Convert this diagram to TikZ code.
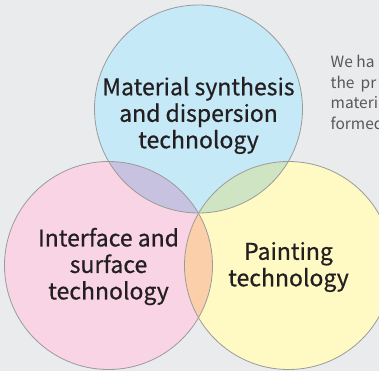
\documentclass[tikz,border=0pt]{standalone}
\usepackage{fontspec}
\setmainfont{Noto Sans CJK JP}
\newfontfamily\areafont[FakeBold=0.6]{Noto Sans CJK JP}
\usepackage{tikz}
\usetikzlibrary{positioning}
\usepackage{xcolor}
\definecolor{bgGray}{HTML}{EAEBEC}
\definecolor{edgeGray}{HTML}{9B9B9B}
\definecolor{inkBlack}{HTML}{231F20}
\definecolor{noteGray}{HTML}{595757}
\definecolor{skyBlue}{HTML}{C6E9F8}
\definecolor{rosePink}{HTML}{F9D4E4}
\definecolor{paleYellow}{HTML}{FFF9C4}
\definecolor{lilacMix}{HTML}{C7C2DF}
\definecolor{sageMix}{HTML}{CFE4C3}
\definecolor{peachMix}{HTML}{FCCFAB}

\begin{document}
\begin{tikzpicture}[
  x=1pt, y=-1pt,
  area/.style={circle, minimum size=208pt, inner sep=0pt},
  areatext/.style={inner sep=0pt, align=center, text=inkBlack, font=\areafont\fontsize{23}{26.5}\selectfont},
  ring/.style={draw=edgeGray, line width=0.8pt},
  note/.style={anchor=north west, inner sep=0pt, align=left, text=noteGray, font=\fontsize{15.5}{20.5}\selectfont}
]

\fill[bgGray] (0,0) rectangle (379,371);
\useasboundingbox (0,0) rectangle (379,371);
\clip (0,0) rectangle (379,371);

\node[area, fill=skyBlue] (synth) at (198.5,109) {};
\node[area, fill=rosePink] (iface) at (108.5,265.5) {};
\node[area, fill=paleYellow] (paint) at (288.5,265.5) {};

\begin{scope}
  \clip (synth.center) circle[radius=104];
  \fill[lilacMix] (iface.center) circle[radius=104];
  \fill[sageMix] (paint.center) circle[radius=104];
\end{scope}
\begin{scope}
  \clip (iface.center) circle[radius=104];
  \fill[peachMix] (paint.center) circle[radius=104];
\end{scope}

\foreach \c in {synth, iface, paint}
  \draw[ring] (\c.center) circle[radius=104];

\node[areatext] (synthtext) at ([yshift=-6.5]synth.center) {Material synthesis\\and dispersion\\technology};
\node[areatext] (ifacetext) at ([yshift=-1]iface.center) {Interface and\\surface\\technology};
\node[areatext] (painttext) at ([yshift=-1.5]paint.center) {Painting\\technology};

\node[note] (blurb) at (330.5,55) {We ha\\the\hspace{0.4em}pr\\materia\\formed};

\end{tikzpicture}
\end{document}
